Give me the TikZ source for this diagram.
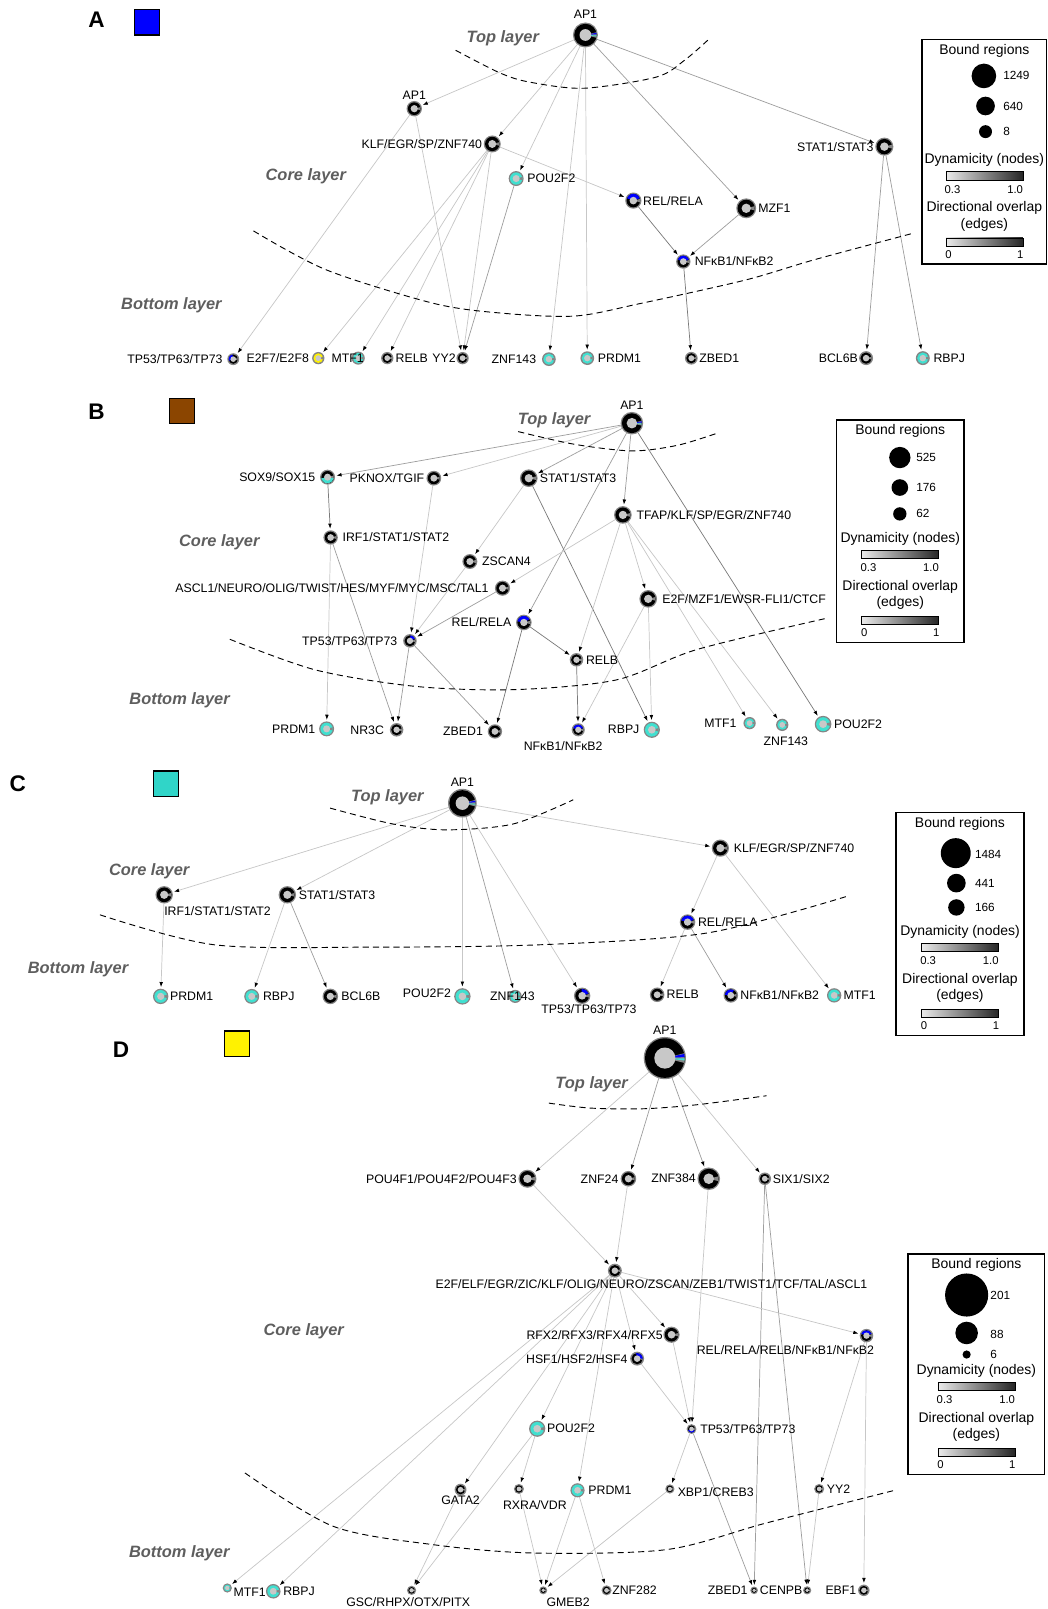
\documentclass[tikz,border=0pt]{standalone}
\usepackage{fontspec}
\setmainfont{Liberation Sans}
\usetikzlibrary{positioning,arrows.meta,backgrounds}

\definecolor{tfcyan}{HTML}{40E0D0}
\definecolor{swcyan}{HTML}{30D5C8}
\definecolor{swbrown}{HTML}{8B4500}
\definecolor{innergray}{HTML}{C8C8C8}
\definecolor{ringgray}{HTML}{858585}
\definecolor{layergray}{HTML}{5E5E5E}

\tikzset{
  tfbase/.style={circle, inner sep=0pt, outer sep=0pt, fill=ringgray},
  notch/.style={fill=ringgray},
  lbl/.style={font=\fontsize{12}{13}\selectfont, inner sep=0.5pt},
  layer/.style={font=\fontsize{16}{17}\selectfont\bfseries\itshape, text=layergray},
  panel/.style={font=\fontsize{22}{23}\selectfont\bfseries},
  swatch/.style={draw=black, line width=1.2pt, minimum size=24.5pt, inner sep=0pt},
  boundary/.style={line width=0.9pt, dash pattern=on 6pt off 4pt},
  link/.style={draw=black!22, line width=0.7pt, shorten >=1.5pt,
    -{Latex[length=5pt,width=3.6pt,color=black]}},
  linkmid/.style={link, draw=black!38},
  linkdark/.style={link, draw=black!52},
  legbox/.style={draw=black, line width=1.5pt},
  legtxt/.style={font=\fontsize{13.6}{14}\selectfont, inner sep=0pt},
  ticktxt/.style={font=\fontsize{11}{12}\selectfont, inner sep=0pt},
  cnttxt/.style={font=\fontsize{11.5}{12}\selectfont, inner sep=0pt, anchor=west},
  bar/.style={left color=black!8, right color=black!85, draw=black, line width=0.6pt},
}

% donut node: [extra parts]{name}{position}{radius}{ring colour}
\newcommand{\tf}[5][]{%
  \node[tfbase, minimum size=#4*2pt] (#2) at (#3) {};
  \def\tfn{#2}\def\tfr{#4}%
  \fill[#5] (#2.center) circle ({#4*1pt-1.3pt});
  \fill[notch] (#2.center) -- ++(-14:{#4*1pt-1.3pt}) arc (-14:14:{#4*1pt-1.3pt}) -- cycle;
  #1%
  \fill[innergray] (#2.center) circle ({0.47*#4*1pt});
}
\newcommand{\ringpart}[3]{%
  \fill[#1] (\tfn.center) -- ++(#2:{\tfr*1pt-1.3pt}) arc (#2:#3:{\tfr*1pt-1.3pt}) -- cycle;}

% legend frame: {prefix}{width}{height}
\newcommand{\legendframe}[3]{%
  \draw[legbox] (0,0) rectangle (#2,#3);
  \node[legtxt] (#1title) at ({#2/2},11) {Bound regions};
  \node[legtxt] (#1dyn) at ({#2/2},{#3-101}) {Dynamicity (nodes)};
  \shade[bar] ({#2/2-37.5},{#3-90}) rectangle ({#2/2+37.5},{#3-82});
  \node[ticktxt] (#1lo) at ({#2/2-31},{#3-73}) {0.3};
  \node[ticktxt] (#1hi) at ({#2/2+30},{#3-73}) {1.0};
  \node[legtxt] (#1dir) at ({#2/2},{#3-54.5}) {Directional overlap};
  \node[legtxt] (#1edg) at ({#2/2},{#3-38.5}) {(edges)};
  \shade[bar] ({#2/2-37.5},{#3-25.5}) rectangle ({#2/2+37.5},{#3-17.5});
  \node[ticktxt] (#1zero) at ({#2/2-35},{#3-9.5}) {0};
  \node[ticktxt] (#1one) at ({#2/2+35},{#3-9.5}) {1};
}

\begin{document}
\begin{tikzpicture}[x=1pt,y=-1pt]
\useasboundingbox (0,0) rectangle (1021,1568);

% ================= A =================
\node[panel] (pA) at (94,19) {A};
\node[swatch, fill=blue] (sA) at (143.4,21.8) {};
\node[layer] (tA) at (490,37) {Top layer};
\node[layer] (cA) at (298,172) {Core layer};
\node[layer] (bA) at (167,297) {Bottom layer};
\draw[boundary] plot[smooth] coordinates {(444,49) (487,71) (516,80) (569,86) (640,75) (668,58) (691,38)};
\draw[boundary] plot[smooth] coordinates {(247,225) (318,263) (422,295.5) (487,305) (560,308) (623,296) (726,273) (794,253) (891,227)};

\tf[\ringpart{blue}{4}{11}\ringpart{tfcyan}{-7}{-2}]{aAPt}{570.5,34.1}{12.2}{black}
\tf{aAPc}{403.7,105.9}{7.5}{black}
\tf{aKLF}{479.7,140.3}{8.3}{black}
\tf{aPOU}{503,174}{7.3}{tfcyan}
\tf[\ringpart{blue}{20}{160}]{aREL}{617.2,195.5}{7.9}{black}
\tf{aMZF}{727.2,203}{9.7}{black}
\tf[\ringpart{blue}{20}{160}]{aNFK}{665.9,254.9}{7}{black}
\tf{aSTAT}{861.8,142.9}{8.8}{black}
\tf[\ringpart{blue}{100}{200}]{aTP}{227.3,350}{5.8}{black}
\tf{aE2F}{310.2,349}{6}{yellow}
\tf{aMTF}{349.1,349}{6.4}{tfcyan}
\tf{aRELB}{377.4,349}{6}{black}
\tf{aYY}{450.8,349}{6}{black}
\tf{aZNF}{534.9,350}{6.7}{tfcyan}
\tf{aPRDM}{572.3,349}{6.7}{tfcyan}
\tf{aZBED}{673.7,349.1}{6.2}{black}
\tf{aBCL}{844,349}{6.8}{black}
\tf{aRBPJ}{899.3,349}{6.8}{tfcyan}

\node[lbl, above=3pt of aAPt] (aAPtL) {AP1};
\node[lbl, above=1pt of aAPc] (aAPcL) {AP1};
\node[lbl, left=1pt of aKLF] (aKLFL) {KLF/EGR/SP/ZNF740};
\node[lbl, right=3pt of aPOU] (aPOUL) {POU2F2};
\node[lbl, right=1pt of aREL] (aRELL) {REL/RELA};
\node[lbl, right=1.5pt of aMZF] (aMZFL) {MZF1};
\node[lbl, right=3.5pt of aNFK] (aNFKL) {NFκB1/NFκB2};
\node[lbl, left=1pt of aSTAT] (aSTATL) {STAT1/STAT3};
\node[lbl, left=4pt of aTP] (aTPL) {TP53/TP63/TP73};
\node[lbl, left=2.5pt of aE2F] (aE2FL) {E2F7/E2F8};
\node[lbl, anchor=east] (aMTFL) at ([xshift=6pt]aMTF.center) {MTF1};
\node[lbl, right=1.5pt of aRELB] (aRELBL) {RELB};
\node[lbl, left=0pt of aYY] (aYYL) {YY2};
\node[lbl, left=5pt of aZNF] (aZNFL) {ZNF143};
\node[lbl, right=3pt of aPRDM] (aPRDML) {PRDM1};
\node[lbl, right=1pt of aZBED] (aZBEDL) {ZBED1};
\node[lbl, left=0.5pt of aBCL] (aBCLL) {BCL6B};
\node[lbl, right=3pt of aRBPJ] (aRBPJL) {RBPJ};

\begin{scope}[on background layer]
\draw[link] (aAPt) -- (aAPc);
\draw[link] (aAPt) -- (aKLF);
\draw[link] (aAPt) -- (aPOU);
\draw[link] (aAPt) -- (aZNF);
\draw[link] (aAPt) -- (aPRDM);
\draw[linkmid] (aAPt) -- (aMZF);
\draw[linkmid] (aAPt) -- (aSTAT);
\draw[link] (aAPc) -- (aTP);
\draw[link] (aAPc) -- (aYY);
\draw[link] (aKLF) -- (aREL);
\draw[link] (aKLF) -- (aE2F);
\draw[link] (aKLF) -- (aMTF);
\draw[link] (aKLF) -- (aRELB);
\draw[link] (aKLF) -- (aYY);
\draw[linkmid] (aPOU) -- (aYY);
\draw[linkdark] (aREL) -- (aNFK);
\draw[linkmid] (aMZF) -- (aNFK);
\draw[linkdark] (aNFK) -- (aZBED);
\draw[linkmid] (aSTAT) -- (aBCL);
\draw[linkmid] (aSTAT) -- (aRBPJ);
\end{scope}

\begin{scope}[shift={(898.5,38.3)}]
\legendframe{lgA}{121.5}{219}
\fill (60.3,35.7) circle (12pt);
\fill (61.9,65) circle (9.1pt);
\fill (61.9,90) circle (6.3pt);
\node[cnttxt] (lgAn1) at (79,35.7) {1249};
\node[cnttxt] (lgAn2) at (79,65) {640};
\node[cnttxt] (lgAn3) at (79,90) {8};
\end{scope}

% ================= B =================
\node[panel] (pB) at (94,401) {B};
\node[swatch, fill=swbrown] (sB) at (177.4,400.8) {};
\node[layer] (tB) at (540,410) {Top layer};
\node[layer] (cB) at (213.7,528.7) {Core layer};
\node[layer] (bB) at (175,682) {Bottom layer};
\draw[boundary] plot[smooth] coordinates {(505,420.6) (560,433) (616,439.4) (660,434) (698.8,422.2)};
\draw[boundary] plot[smooth] coordinates {(224,623) (308,653) (406,669) (503,672) (601,662.5) (679,633) (806,602.4)};

\tf[\ringpart{blue}{4}{11}\ringpart{tfcyan}{-7}{-2}]{bAP}{615.8,412.4}{11}{black}
\tf[\ringpart{tfcyan}{190}{350}]{bSOX}{319.2,465}{7.3}{black}
\tf{bPKN}{422.8,466}{7.2}{black}
\tf{bSTAT}{515.3,466}{8.6}{black}
\tf{bTFAP}{607,501.8}{8.6}{black}
\tf{bIRF}{322.2,523.8}{7}{black}
\tf{bZSC}{457.9,547.2}{7.3}{black}
\tf{bASC}{489.7,573.2}{7.4}{black}
\tf{bE2F}{631.7,583.6}{8.6}{black}
\tf[\ringpart{blue}{30}{170}]{bREL}{510.5,606.6}{7.6}{black}
\tf[\ringpart{blue}{25}{85}]{bTP}{399.5,624.5}{6.6}{black}
\tf{bRELB}{561.8,643}{6.6}{black}
\tf{bPRDM}{318.3,710.3}{7.3}{tfcyan}
\tf{bNR3C}{386.5,711.2}{6.6}{black}
\tf{bZBED}{482.3,712.8}{7}{black}
\tf[\ringpart{blue}{20}{160}]{bNFK}{563.5,711.2}{6.4}{black}
\tf{bRBPJ}{635.2,711.2}{7.9}{tfcyan}
\tf{bMTF}{730.5,704.7}{6}{tfcyan}
\tf{bZNF}{762.3,706.4}{6}{tfcyan}
\tf{bPOU}{802.1,705.7}{8.1}{tfcyan}

\node[lbl, above=2pt of bAP] (bAPL) {AP1};
\node[lbl, left=4pt of bSOX] (bSOXL) {SOX9/SOX15};
\node[lbl, left=1.5pt of bPKN] (bPKNL) {PKNOX/TGIF};
\node[lbl, right=1.5pt of bSTAT] (bSTATL) {STAT1/STAT3};
\node[lbl, right=4pt of bTFAP] (bTFAPL) {TFAP/KLF/SP/EGR/ZNF740};
\node[lbl, right=4pt of bIRF] (bIRFL) {IRF1/STAT1/STAT2};
\node[lbl, right=4pt of bZSC] (bZSCL) {ZSCAN4};
\node[lbl, left=5.5pt of bASC] (bASCL) {ASCL1/NEURO/OLIG/TWIST/HES/MYF/MYC/MSC/TAL1};
\node[lbl, right=4.5pt of bE2F] (bE2FL) {E2F/MZF1/EWSR-FLI1/CTCF};
\node[lbl, left=4pt of bREL] (bRELL) {REL/RELA};
\node[lbl, left=5pt of bTP] (bTPL) {TP53/TP63/TP73};
\node[lbl, right=2pt of bRELB] (bRELBL) {RELB};
\node[lbl, left=3pt of bPRDM] (bPRDML) {PRDM1};
\node[lbl, left=5pt of bNR3C] (bNR3CL) {NR3C};
\node[lbl, left=4pt of bZBED] (bZBEDL) {ZBED1};
\node[lbl] (bNFKL) at ([shift={(-14.7,16.3)}]bNFK.center) {NFκB1/NFκB2};
\node[lbl, left=3.5pt of bRBPJ] (bRBPJL) {RBPJ};
\node[lbl, left=6pt of bMTF] (bMTFL) {MTF1};
\node[lbl] (bZNFL) at ([shift={(3.5,16)}]bZNF.center) {ZNF143};
\node[lbl, right=2pt of bPOU] (bPOUL) {POU2F2};

\begin{scope}[on background layer]
\draw[linkmid] (bAP) -- (bSOX);
\draw[link] (bAP) -- (bPKN);
\draw[linkmid] (bAP) -- (bSTAT);
\draw[linkmid] (bAP) -- (bTFAP);
\draw[linkmid] (bAP) -- (bREL);
\draw[linkdark] (bAP) -- (bPOU);
\draw[linkdark] (bSOX) -- (bIRF);
\draw[link] (bPKN) -- (bTP);
\draw[link] (bSTAT) -- (bZSC);
\draw[linkdark] (bSTAT) -- (bRBPJ);
\draw[link] (bTFAP) -- (bASC);
\draw[link] (bTFAP) -- (bE2F);
\draw[link] (bTFAP) -- (bRELB);
\draw[link] (bTFAP) -- (bMTF);
\draw[link] (bTFAP) -- (bZNF);
\draw[link] (bIRF) -- (bPRDM);
\draw[linkmid] (bIRF) -- (bNR3C);
\draw[link] (bZSC) -- (bTP);
\draw[linkmid] (bASC) -- (bTP);
\draw[link] (bE2F) -- (bNFK);
\draw[link] (bE2F) -- (bRBPJ);
\draw[linkdark] (bREL) -- (bRELB);
\draw[linkdark] (bREL) -- (bZBED);
\draw[linkmid] (bTP) -- (bNR3C);
\draw[linkmid] (bTP) -- (bZBED);
\draw[linkdark] (bRELB) -- (bNFK);
\end{scope}

\begin{scope}[shift={(815.3,409.2)}]
\legendframe{lgB}{124}{217}
\fill (61.6,36.7) circle (10.4pt);
\fill (61.6,65.9) circle (8.1pt);
\fill (61.6,91.6) circle (6.5pt);
\node[cnttxt] (lgBn1) at (77.5,36.7) {525};
\node[cnttxt] (lgBn2) at (77.5,65.9) {176};
\node[cnttxt] (lgBn3) at (77.5,91.6) {62};
\end{scope}

% ================= C =================
\node[panel] (pC) at (17.4,764) {C};
\node[swatch, fill=swcyan] (sC) at (161.8,763.7) {};
\node[layer] (tC) at (377.5,776.8) {Top layer};
\node[layer] (cC) at (145.4,849.3) {Core layer};
\node[layer] (bC) at (76,944.4) {Bottom layer};
\draw[boundary] plot[smooth] coordinates {(321.7,787.5) (383,803) (435,808.7) (500,803) (558.6,779.4)};
\draw[boundary] plot[smooth] coordinates {(97.4,891.5) (208.8,920.7) (360,923) (526,920.7) (688.5,909.3) (825,873.6)};

\tf[\ringpart{blue}{4}{11}\ringpart{tfcyan}{-7}{-2}]{cAP}{450.6,782.7}{14}{black}
\tf{cKLF}{702,826.5}{8.4}{black}
\tf{cIRF}{160,872}{8.5}{black}
\tf{cSTAT}{280,872}{8.5}{black}
\tf[\ringpart{blue}{20}{165}]{cREL}{670,898.6}{7.6}{black}
\tf{cPRDM}{156.6,971}{7.5}{tfcyan}
\tf{cRBPJ}{245.3,971}{7.3}{tfcyan}
\tf{cBCL}{321.9,971}{7.6}{black}
\tf{cPOU}{450.6,971}{8}{tfcyan}
\tf{cZNF}{502.1,971}{6.4}{tfcyan}
\tf[\ringpart{blue}{20}{95}]{cTP}{567.3,970.4}{8}{black}
\tf{cRELB}{640.4,969.4}{7.1}{black}
\tf[\ringpart{blue}{60}{175}]{cNFK}{712.2,970}{7.1}{black}
\tf{cMTF}{812.9,970}{7}{tfcyan}

\node[lbl, above=2pt of cAP] (cAPL) {AP1};
\node[lbl, right=4pt of cKLF] (cKLFL) {KLF/EGR/SP/ZNF740};
\node[lbl] (cIRFL) at ([shift={(52,16)}]cIRF.center) {IRF1/STAT1/STAT2};
\node[lbl, right=2pt of cSTAT] (cSTATL) {STAT1/STAT3};
\node[lbl, right=2pt of cREL] (cRELL) {REL/RELA};
\node[lbl, right=1pt of cPRDM] (cPRDML) {PRDM1};
\node[lbl, right=3pt of cRBPJ] (cRBPJL) {RBPJ};
\node[lbl, right=2.5pt of cBCL] (cBCLL) {BCL6B};
\node[lbl, anchor=east] (cPOUL) at ([shift={(-10.5,-3)}]cPOU.center) {POU2F2};
\node[lbl] (cZNFL) at ([xshift=-2.8pt]cZNF.center) {ZNF143};
\node[lbl] (cTPL) at ([shift={(6.7,13)}]cTP.center) {TP53/TP63/TP73};
\node[lbl, right=1.5pt of cRELB] (cRELBL) {RELB};
\node[lbl, right=1.5pt of cNFK] (cNFKL) {NFκB1/NFκB2};
\node[lbl, right=1.5pt of cMTF] (cMTFL) {MTF1};

\begin{scope}[on background layer]
\draw[link] (cAP) -- (cIRF);
\draw[link] (cAP) -- (cSTAT);
\draw[link] (cAP) -- (cKLF);
\draw[link] (cAP) -- (cPOU);
\draw[linkmid] (cAP) -- (cZNF);
\draw[link] (cAP) -- (cTP);
\draw[link] (cIRF) -- (cPRDM);
\draw[link] (cSTAT) -- (cRBPJ);
\draw[linkmid] (cSTAT) -- (cBCL);
\draw[link] (cKLF) -- (cREL);
\draw[link] (cKLF) -- (cMTF);
\draw[link] (cREL) -- (cRELB);
\draw[linkmid] (cREL) -- (cNFK);
\end{scope}

\begin{scope}[shift={(873,791.8)}]
\legendframe{lgC}{125}{217.5}
\fill (58.4,39.6) circle (14.6pt);
\fill (59,68.8) circle (9.1pt);
\fill (59,92.5) circle (8pt);
\node[cnttxt] (lgCn1) at (77,40.5) {1484};
\node[cnttxt] (lgCn2) at (77,68.8) {441};
\node[cnttxt] (lgCn3) at (77,92.5) {166};
\end{scope}

% ================= D =================
\node[panel] (pD) at (118,1023) {D};
\node[swatch, fill=yellow] (sD) at (231,1017) {};
\node[layer] (tD) at (576.6,1056.4) {Top layer};
\node[layer] (cD) at (296,1297) {Core layer};
\node[layer] (bD) at (174.7,1514) {Bottom layer};
\draw[boundary] plot[smooth] coordinates {(534.9,1075) (574.8,1079.8) (627,1080.5) (679,1076.6) (747,1067.8)};
\draw[boundary] plot[smooth] coordinates {(238.7,1435.4) (324.7,1487.4) (422.2,1505.3) (519.6,1513.4) (649.5,1510.1) (747,1484.1) (872,1452.3)};

\tf[\ringpart{blue}{3}{12}\ringpart{tfcyan}{-7}{-1}]{dAP}{647.9,1031.1}{20.6}{black}
\fill[innergray] (dAP.center) circle (10.3pt);
\tf{dPOU4}{514,1148.7}{8.8}{black}
\tf{dZ24}{612.4,1148.7}{7.6}{black}
\tf{dZ384}{690.7,1148.7}{11}{black}
\tf{dSIX}{745.3,1148.7}{6.1}{black}
\tf{dHub}{599.2,1238.3}{6.8}{black}
\tf{dRFX}{654.4,1300.7}{7.9}{black}
\tf[\ringpart{blue}{0}{100}]{dHSF}{620.9,1324}{6.8}{black}
\tf[\ringpart{blue}{20}{160}]{dREL}{844.4,1301.6}{6.6}{black}
\tf{dPOU}{523.5,1392.3}{7.9}{tfcyan}
\tf[\ringpart{blue}{200}{330}]{dTP}{673.9,1392.6}{4.8}{black}
\tf{dGATA}{448.8,1451.7}{5.8}{black}
\tf{dRXRA}{505.7,1451}{4.9}{black}
\tf{dPRDM}{562.8,1452.3}{6.9}{tfcyan}
\tf{dXBP}{652.8,1451}{4.5}{black}
\tf{dYY}{798.3,1451}{4.9}{black}
\tf{dGSC}{401.1,1549.8}{4.5}{black}
\tf{dGMEB}{529.4,1549.8}{3.9}{black}
\tf{dZ282}{591.1,1549.8}{4.9}{black}
\tf{dZBED}{734.9,1549.8}{3.7}{black}
\tf{dCENPB}{786.6,1549.8}{4}{black}
\tf{dEBF}{841.8,1549.8}{5.6}{black}
\tf{dMTF}{221.5,1547.5}{4.5}{tfcyan}
\tf{dRBPJ}{266.3,1550.7}{7.1}{tfcyan}

\node[lbl, above=2pt of dAP] (dAPL) {AP1};
\node[lbl, left=1pt of dPOU4] (dPOU4L) {POU4F1/POU4F2/POU4F3};
\node[lbl, left=1.5pt of dZ24] (dZ24L) {ZNF24};
\node[lbl, left=1pt of dZ384] (dZ384L) {ZNF384};
\node[lbl, right=1pt of dSIX] (dSIXL) {SIX1/SIX2};
\node[lbl] (dHubL) at ([shift={(35.6,13)}]dHub.center) {E2F/ELF/EGR/ZIC/KLF/OLIG/NEURO/ZSCAN/ZEB1/TWIST1/TCF/TAL/ASCL1};
\node[lbl, left=0pt of dRFX] (dRFXL) {RFX2/RFX3/RFX4/RFX5};
\node[lbl, left=2pt of dHSF] (dHSFL) {HSF1/HSF2/HSF4};
\node[lbl] (dRELL) at ([shift={(-79,14.4)}]dREL.center) {REL/RELA/RELB/NFκB1/NFκB2};
\node[lbl, right=1pt of dPOU] (dPOUL) {POU2F2};
\node[lbl, right=3pt of dTP] (dTPL) {TP53/TP63/TP73};
\node[lbl, below=0pt of dGATA] (dGATAL) {GATA2};
\node[lbl] (dRXRAL) at ([shift={(15.5,16)}]dRXRA.center) {RXRA/VDR};
\node[lbl, right=3pt of dPRDM] (dPRDML) {PRDM1};
\node[lbl, anchor=west] (dXBPL) at ([shift={(7,3.3)}]dXBP.center) {XBP1/CREB3};
\node[lbl, right=2pt of dYY] (dYYL) {YY2};
\node[lbl] (dGSCL) at ([shift={(-3.3,11.2)}]dGSC.center) {GSC/RHPX/OTX/PITX};
\node[lbl] (dGMEBL) at ([shift={(24.3,11.2)}]dGMEB.center) {GMEB2};
\node[lbl, right=0pt of dZ282] (dZ282L) {ZNF282};
\node[lbl, left=2pt of dZBED] (dZBEDL) {ZBED1};
\node[lbl, left=0pt of dCENPB] (dCENPBL) {CENPB};
\node[lbl, left=1pt of dEBF] (dEBFL) {EBF1};
\node[lbl, anchor=west] (dMTFL) at ([shift={(5.5,3.9)}]dMTF.center) {MTF1};
\node[lbl, right=2pt of dRBPJ] (dRBPJL) {RBPJ};

\begin{scope}[on background layer]
\draw[link] (dAP) -- (dPOU4);
\draw[linkmid] (dAP) -- (dZ24);
\draw[linkmid] (dAP) -- (dZ384);
\draw[link] (dAP) -- (dSIX);
\draw[link] (dPOU4) -- (dHub);
\draw[link] (dZ24) -- (dHub);
\draw[link] (dZ384) -- (dTP);
\draw[linkmid] (dSIX) -- (dZBED);
\draw[linkmid] (dSIX) -- (dCENPB);
\draw[link] (dHub) -- (dRFX);
\draw[link] (dHub) -- (dHSF);
\draw[link] (dHub) -- (dREL);
\draw[link] (dHub) -- (dPOU);
\draw[link] (dHub) -- (dPRDM);
\draw[link] (dHub) -- (dGATA);
\draw[link] (dHub) -- (dMTF);
\draw[link] (dHub) -- (dRBPJ);
\draw[link] (dRFX) -- (dTP);
\draw[link] (dHSF) -- (dTP);
\draw[link] (dREL) -- (dYY);
\draw[link] (dREL) -- (dEBF);
\draw[link] (dPOU) -- (dRXRA);
\draw[link] (dPOU) -- (dGSC);
\draw[link] (dGATA) -- (dGSC);
\draw[link] (dRXRA) -- (dGMEB);
\draw[link] (dPRDM) -- (dGMEB);
\draw[link] (dPRDM) -- (dZ282);
\draw[link] (dXBP) -- (dGMEB);
\draw[link] (dTP) -- (dXBP);
\draw[linkmid] (dTP) -- (dZBED);
\draw[link] (dYY) -- (dCENPB);
\end{scope}

\begin{scope}[shift={(885,1222)}]
\legendframe{lgD}{133}{215}
\fill (57,40) circle (21pt);
\fill (57,77) circle (11pt);
\fill (57,98) circle (4pt);
\node[cnttxt] (lgDn1) at (80,40) {201};
\node[cnttxt] (lgDn2) at (80,78) {88};
\node[cnttxt] (lgDn3) at (80,98) {6};
\end{scope}

\end{tikzpicture}
\end{document}
